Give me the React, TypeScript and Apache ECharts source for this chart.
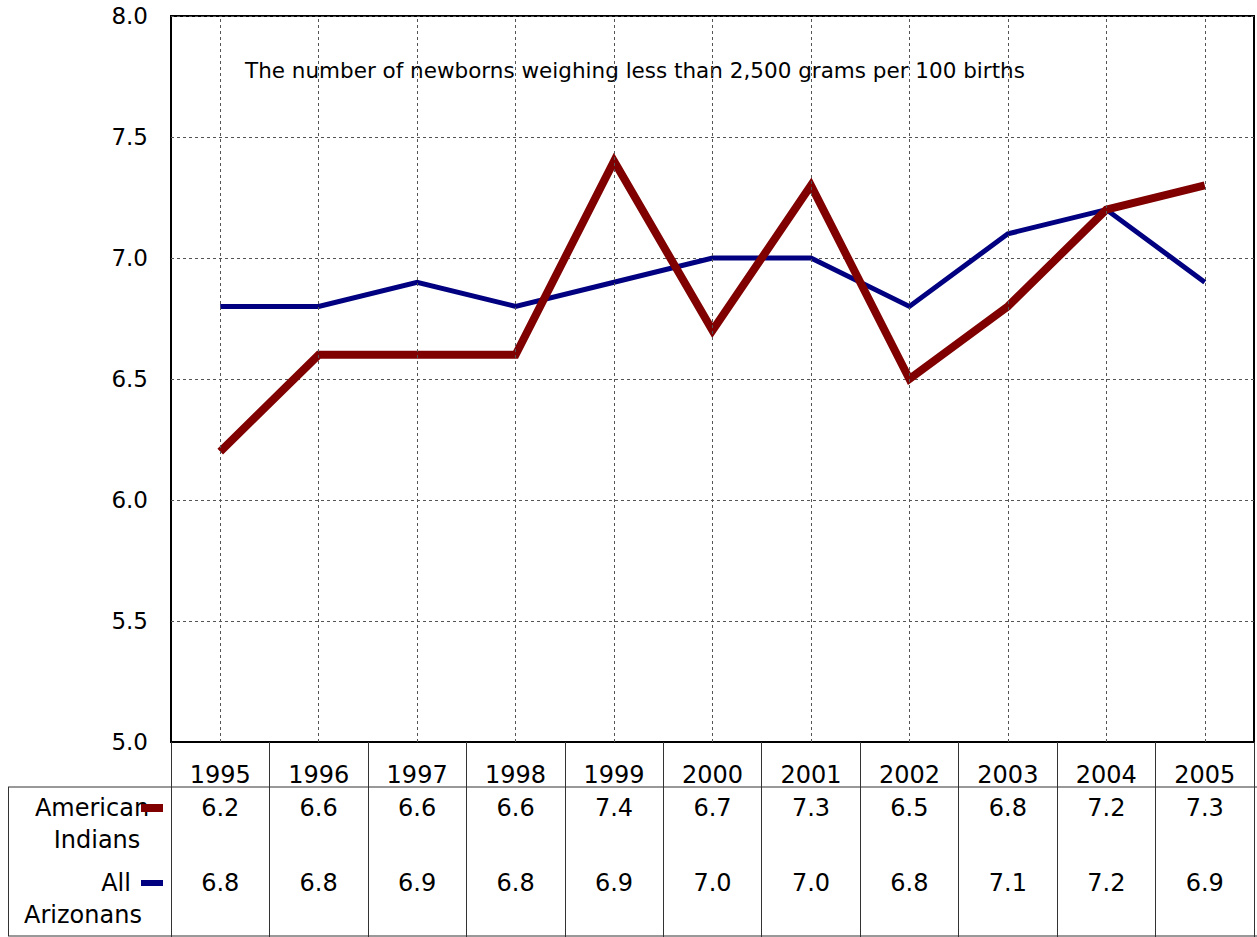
import React, { useEffect, useRef } from "react";
import * as echarts from "echarts";

const years = ["1995", "1996", "1997", "1998", "1999", "2000", "2001", "2002", "2003", "2004", "2005"];
const americanIndians = [6.2, 6.6, 6.6, 6.6, 7.4, 6.7, 7.3, 6.5, 6.8, 7.2, 7.3];
const allArizonans = [6.8, 6.8, 6.9, 6.8, 6.9, 7.0, 7.0, 6.8, 7.1, 7.2, 6.9];
const yTicks = { min: 5, max: 8, interval: 0.5 };
const title = "The number of newborns weighing less than 2,500 grams per 100 births";

const RED = "#800000";
const NAVY = "#000080";
const FONT = "DejaVu Sans";

export default function App() {
  const ref = useRef<HTMLDivElement>(null);
  useEffect(() => {
    if (!ref.current) return;
    const chart = echarts.init(ref.current, null, { renderer: "svg" });
    const gridTop = 16;
    const gridBottomY = 742;
    chart.setOption({
      animation: false,
      backgroundColor: "#fff",
      grid: {
        left: 171,
        right: 3,
        top: gridTop,
        bottom: 937 - gridBottomY,
        show: true,
        borderColor: "#000",
        borderWidth: 2,
      },
      xAxis: {
        type: "category",
        data: years,
        boundaryGap: true,
        axisLine: { show: true, lineStyle: { color: "#000", width: 2 } },
        axisTick: { show: true, length: 195, lineStyle: { color: "#333", width: 1 } },
        axisLabel: { margin: 21, fontSize: 24, fontFamily: FONT, color: "#000" },
        splitLine: { show: false },
      },
      yAxis: {
        type: "value",
        min: yTicks.min,
        max: yTicks.max,
        interval: yTicks.interval,
        axisLine: { show: false },
        axisTick: { show: false },
        axisLabel: {
          margin: 23,
          fontSize: 23,
          fontFamily: FONT,
          color: "#000",
          formatter: (v: number) => v.toFixed(1),
        },
        splitLine: { show: true, lineStyle: { color: "#555", width: 1, type: [3, 3] } },
      },
      series: [
        {
          type: "line",
          name: "grid",
          data: [],
          z: 1,
          silent: true,
          markLine: {
            silent: true,
            symbol: ["none", "none"],
            label: { show: false },
            lineStyle: { color: "#555", width: 1, type: [3, 3] },
            data: years.map((y) => ({ xAxis: y })),
          },
        },
        {
          type: "line",
          name: "All Arizonans",
          data: allArizonans,
          symbol: "none",
          z: 3,
          lineStyle: { color: NAVY, width: 5, join: "miter" },
          itemStyle: { color: NAVY },
        },
        {
          type: "line",
          name: "American Indians",
          data: americanIndians,
          symbol: "none",
          z: 4,
          lineStyle: { color: RED, width: 8, join: "miter" },
          itemStyle: { color: RED },
        },
      ],
    });

    const row1Y = 808;
    const row2Y = 883;
    const tableTop = 787;
    const tableBottom = 936;
    const rightX = chart.convertToPixel({ gridIndex: 0 }, [years.length - 0.5, yTicks.min])[0] + 0.5;
    const cellTexts: any[] = [];
    years.forEach((y, i) => {
      const x = chart.convertToPixel({ xAxisIndex: 0 }, y) as number;
      cellTexts.push({
        type: "text",
        x,
        y: row1Y,
        style: { text: americanIndians[i].toFixed(1), fontSize: 24, fontFamily: FONT, fill: "#000", align: "center", verticalAlign: "middle" },
      });
      cellTexts.push({
        type: "text",
        x,
        y: row2Y,
        style: { text: allArizonans[i].toFixed(1), fontSize: 24, fontFamily: FONT, fill: "#000", align: "center", verticalAlign: "middle" },
      });
    });
    const legendText = (text: string, x: number, y: number) => ({
      type: "text",
      x,
      y,
      style: { text, fontSize: 24, fontFamily: FONT, fill: "#000", align: "center", verticalAlign: "middle" },
    });
    chart.setOption({
      graphic: [
        {
          type: "text",
          x: 245,
          y: 70,
          style: { text: title, fontSize: 21.5, fontFamily: FONT, fill: "#000", verticalAlign: "middle" },
        },
        { type: "line", shape: { x1: 8, y1: tableTop, x2: rightX, y2: tableTop }, style: { stroke: "#333", lineWidth: 1 } },
        { type: "line", shape: { x1: 8, y1: tableBottom, x2: rightX, y2: tableBottom }, style: { stroke: "#333", lineWidth: 1 } },
        { type: "line", shape: { x1: 8.5, y1: tableTop, x2: 8.5, y2: tableBottom }, style: { stroke: "#333", lineWidth: 1 } },
        legendText("American", 92, row1Y),
        legendText("Indians", 97, 840),
        legendText("All", 116, row2Y),
        legendText("Arizonans", 83, 915),
        { type: "rect", shape: { x: 141, y: row1Y - 4, width: 22, height: 8 }, style: { fill: RED }, z: 10 },
        { type: "rect", shape: { x: 141, y: row2Y - 3, width: 22, height: 6 }, style: { fill: NAVY }, z: 10 },
        ...cellTexts,
      ],
    });
    return () => chart.dispose();
  }, []);
  return <div ref={ref} style={{ position: "fixed", left: 0, top: 0, width: 1257, height: 937 }} />;
}
